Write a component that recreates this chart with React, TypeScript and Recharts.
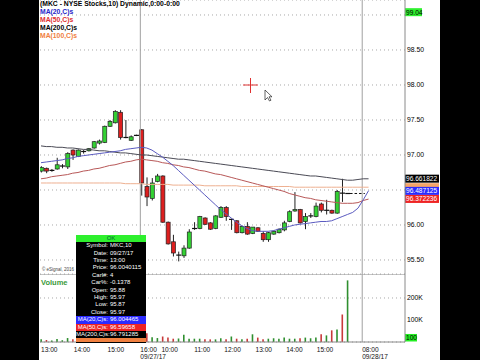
import { ComposedChart, Bar, Line, XAxis, YAxis, CartesianGrid, ReferenceLine, Cell } from 'recharts';

// 10 min bars, index 0 = first bar of 09/26 afternoon, index 19 = 09:30 open of next day
const opens = [
  96.77, 96.81, 96.775, 96.80, 96.84, 96.83, 97.07, 96.98, 97.05, 97.06, 97.10, 97.17, 97.18, 97.41, 97.46, 97.61, 97.25, 97.21, 97.28,
  97.36, 96.55, 96.38, 96.62, 96.70, 96.04, 95.76, 95.57, 95.56, 95.67, 95.95, 95.95, 96.10, 96.03, 95.95, 96.11, 96.25, 96.08, 96.06, 95.89,
  95.98, 95.88, 95.96, 95.88, 95.79, 95.87, 95.89, 95.93, 96.05, 96.20, 96.22, 96.05, 96.13, 96.12, 96.30, 96.21, 96.21, 96.17, 96.46, 96.45,
];
const highs = [
  96.84, 96.82, 96.80, 96.96, 96.87, 97.04, 97.08, 97.08, 97.07, 97.10, 97.20, 97.22, 97.42, 97.50, 97.64, 97.64, 97.50, 97.28, 97.29,
  97.37, 96.68, 96.67, 96.73, 96.71, 96.05, 95.86, 95.62, 95.71, 95.94, 96.04, 96.13, 96.11, 96.04, 96.14, 96.27, 96.27, 96.09, 96.07, 95.99,
  96.04, 95.97, 95.97, 95.91, 95.90, 95.92, 95.95, 96.06, 96.21, 96.47, 96.23, 96.17, 96.17, 96.32, 96.32, 96.36, 96.22, 96.50, 96.66, 96.45,
];
const lows = [
  96.75, 96.74, 96.76, 96.79, 96.81, 96.80, 96.93, 96.97, 97.02, 97.05, 97.09, 97.15, 97.17, 97.40, 97.45, 97.22, 97.24, 97.20, 97.27,
  96.42, 96.27, 96.35, 96.61, 96.03, 95.72, 95.55, 95.48, 95.53, 95.66, 95.93, 95.94, 96.00, 95.93, 95.94, 96.10, 96.06, 95.93, 95.88, 95.88,
  95.86, 95.87, 95.90, 95.76, 95.76, 95.86, 95.88, 95.91, 96.04, 96.19, 96.02, 95.94, 96.10, 96.11, 96.18, 96.15, 96.16, 96.16, 96.33, 96.45,
];
const closes = [
  96.82, 96.77, 96.785, 96.86, 96.845, 97.02, 97.00, 97.07, 97.05, 97.09, 97.19, 97.20, 97.41, 97.48, 97.62, 97.25, 97.25, 97.26, 97.28,
  96.60, 96.40, 96.60, 96.70, 96.04, 95.73, 95.60, 95.57, 95.67, 95.90, 95.95, 96.12, 96.01, 95.94, 96.13, 96.25, 96.12, 96.08, 95.89, 95.98,
  95.87, 95.97, 95.91, 95.79, 95.89, 95.91, 95.94, 96.03, 96.19, 96.22, 96.03, 96.12, 96.13, 96.27, 96.21, 96.21, 96.17, 96.48, 96.45, 96.45,
];
// volume in thousands
const volumes = [
  12, 9, 7, 14, 8, 18, 12, 10, 8, 9, 11, 9, 20, 14, 16, 22, 12, 9, 15,
  85, 40, 22, 18, 25, 20, 15, 16, 33, 15, 15, 15, 12, 12, 12, 17, 12, 25, 15, 12,
  15, 35, 20, 12, 15, 17, 15, 20, 15, 15, 17, 20, 17, 20, 35, 30, 53, 57, 125, 280,
];

const ma20 = [
  96.89, 96.90, 96.91, 96.92, 96.93, 96.95, 96.96, 96.98, 96.99, 97.00,
  97.01, 97.02, 97.03, 97.04, 97.05, 97.06, 97.08, 97.09, 97.10, 97.11,
  97.10, 97.07, 97.02, 96.97, 96.91, 96.85, 96.78, 96.71, 96.64, 96.57,
  96.50, 96.43, 96.36, 96.29, 96.22, 96.16, 96.10, 96.04, 95.99, 95.95,
  95.92, 95.91, 95.91, 95.91, 95.92, 95.94, 95.96, 95.98, 96.00, 96.01,
  96.02, 96.03, 96.04, 96.05, 96.05, 96.06, 96.09, 96.12, 96.15, 96.18,
  96.24, 96.36, 96.49,
];
const ma50 = [
  96.66, 96.67, 96.69, 96.70, 96.71, 96.72, 96.74, 96.75, 96.77, 96.78,
  96.80, 96.81, 96.83, 96.85, 96.86, 96.88, 96.90, 96.91, 96.93, 96.94,
  96.93, 96.92, 96.91, 96.89, 96.88, 96.86, 96.85, 96.83, 96.82, 96.80,
  96.78, 96.77, 96.75, 96.73, 96.72, 96.70, 96.68, 96.66, 96.64, 96.62,
  96.60, 96.58, 96.56, 96.54, 96.52, 96.50, 96.48, 96.45, 96.43, 96.41,
  96.39, 96.38, 96.36, 96.35, 96.34, 96.33, 96.32, 96.31, 96.31, 96.31,
  96.32, 96.35, 96.37,
];
const ma200 = [
  97.13, 97.12, 97.12, 97.11, 97.11, 97.10, 97.10, 97.09, 97.08, 97.08,
  97.07, 97.06, 97.06, 97.05, 97.04, 97.03, 97.03, 97.02, 97.01, 97.00,
  97.00, 96.99, 96.98, 96.97, 96.96, 96.95, 96.94, 96.94, 96.93, 96.92,
  96.91, 96.90, 96.89, 96.88, 96.87, 96.86, 96.85, 96.84, 96.83, 96.82,
  96.81, 96.80, 96.79, 96.78, 96.77, 96.76, 96.75, 96.74, 96.73, 96.72,
  96.71, 96.70, 96.70, 96.69, 96.68, 96.67, 96.66, 96.65, 96.64, 96.64,
  96.65, 96.66, 96.66,
];
const ma100 = [
  96.60, 96.60, 96.60, 96.60, 96.60, 96.60, 96.60, 96.60, 96.60, 96.60,
  96.60, 96.60, 96.60, 96.60, 96.60, 96.60, 96.59, 96.59, 96.59, 96.59,
  96.58, 96.58, 96.58, 96.58, 96.58, 96.57, 96.57, 96.57, 96.57, 96.57,
  96.57, 96.56, 96.56, 96.56, 96.56, 96.56, 96.56, 96.56, 96.55, 96.55,
  96.55, 96.55, 96.55, 96.55, 96.55, 96.55, 96.55, 96.55, 96.54, 96.54,
  96.54, 96.54, 96.54, 96.54, 96.54, 96.54, 96.54, 96.54, 96.54, 96.54,
  96.54, 96.54, 96.54,
];

const priceTicks = [95.5, 96, 96.5, 97, 97.5, 98, 98.5, 99];
// these two tick labels sit under the value tags on the reference
const coveredTicks = [96.5, 99];
const volTicks = [100000, 200000];
const xTickIdx = [0, 6.2, 12.6, 18.8, 22.8, 29, 34.7, 40.6, 46.4, 52.2, 60.8];
const xTickLabels = ['13:00', '14:00', '15:00', '16:00', '10:00', '11:00', '12:00', '13:00', '14:00', '15:00', '08:00'];
const xTickDates = ['', '', '', '09/27/17', '', '', '', '', '', '', '09/28/17'];
const daySplits = [18.8, 60.8];

// right-axis value tags: [value, text, background]
const maTags: [number, string, string][] = [
  [96.54, '', '#f4a468'],
  [96.661822, '96.661822', '#000000'],
  [96.487125, '96.487125', '#2b2bff'],
  [96.372236, '96.372236', '#ee2424'],
];

const tipRows = [
  ['Symbol:', 'MKC,10'], ['Date:', '09/27/17'], ['Time:', '13:00'], ['Price:', '96.0040115'],
  ['Carl#:', '4'], ['Car%:', '-0.1378'], ['Open:', '95.88'], ['High:', '95.97'], ['Low:', '95.87'], ['Close:', '95.97'],
];
const tipMaRows = [
  ['MA(20,C)s:', '96.004465', '#2b2bff'],
  ['MA(50,C)s:', '96.59658', '#ee2424'],
  ['MA(200,C)s:', '96.791285', '#000'],
];

const GREEN = '#33d133';
const RED = '#dd1f1f';
const X_DOMAIN = [-0.19, 68.9];

const data = ma20.map((_, i) => ({
  i,
  open: opens[i],
  high: highs[i],
  low: lows[i],
  close: closes[i],
  range: highs[i] != null ? [lows[i], highs[i]] : undefined,
  vol: volumes[i] != null ? volumes[i] * 1000 : undefined,
  ma20: ma20[i],
  ma50: ma50[i],
  ma200: ma200[i],
  ma100: ma100[i],
}));

function Candle(props: any) {
  const { x, y, width, height, payload } = props;
  if (!payload || payload.high == null || x == null) return null;
  const { open, close, high, low } = payload;
  const top = Math.min(y, y + height);
  const h = Math.abs(height);
  const cx = x + width / 2;
  const ppu = high > low ? h / (high - low) : 0;
  const yB = top + (high - Math.max(open, close)) * ppu;
  const yE = top + (high - Math.min(open, close)) * ppu;
  const bodyH = yE - yB;
  return (
    <g>
      {h > 0 && <line x1={cx} x2={cx} y1={top} y2={top + h} stroke="#222" strokeWidth={1} />}
      {bodyH < 1.3 ? (
        <line x1={cx - 2.5} x2={cx + 2.5} y1={(yB + yE) / 2} y2={(yB + yE) / 2} stroke="#111" strokeWidth={1.2} />
      ) : (
        <rect x={cx - 2} y={yB} width={4} height={bodyH} fill={close >= open ? GREEN : RED} stroke="#222" strokeWidth={0.7} />
      )}
    </g>
  );
}

const tag = (text: string, bg: string, fg: string, w: number) => (props: any) => {
  const vb = props.viewBox;
  if (!vb) return null;
  const x0 = vb.x + vb.width;
  return (
    <g>
      <rect x={x0} y={vb.y - 4} width={w} height={8} fill={bg} />
      {text && <text x={x0 + 1} y={vb.y + 2.4} fontSize={6.6} fill={fg}>{text}</text>}
    </g>
  );
};

const volTag = (props: any) => {
  const vb = props.viewBox;
  if (!vb) return null;
  const x0 = vb.x + vb.width;
  return (
    <g>
      <rect x={x0} y={vb.y - 8} width={12} height={7.5} fill="#22ee22" />
      <text x={x0 + 1} y={vb.y - 1.8} fontSize={6.6} fill="#000">100</text>
    </g>
  );
};

function TimeTick(props: any) {
  const { x, y, payload } = props;
  const k = xTickIdx.indexOf(payload.value);
  return (
    <g>
      <text x={x} y={y + 7.5} fontSize={6.6} fill="#111">{xTickLabels[k]}</text>
      {xTickDates[k] && <text x={x} y={y + 14.5} fontSize={6.6} fill="#111">{xTickDates[k]}</text>}
    </g>
  );
}

const lastClose = closes[closes.length - 1];

export default function App() {
  return (
    <div style={{ position: 'absolute', left: 0, top: 0, width: 480, height: 360, background: '#000', overflow: 'hidden', fontFamily: '"Liberation Sans", Arial, sans-serif' }}>
      <div style={{ position: 'absolute', left: 39, top: 0, width: 401, height: 360, background: '#fff' }} />

      <div style={{ position: 'absolute', left: 39, top: 0 }}>
        <ComposedChart width={401} height={274} data={data} margin={{ top: 0, right: 0, bottom: 0, left: 1 }}>
          <CartesianGrid vertical={false} stroke="#a8a8a8" strokeDasharray="1 3" />
          <XAxis type="number" dataKey="i" domain={X_DOMAIN} allowDataOverflow hide />
          <YAxis
            orientation="right"
            width={35}
            domain={[95.3, 99.214]}
            allowDataOverflow
            ticks={priceTicks}
            tickFormatter={(v: number) => (coveredTicks.includes(v) ? '' : v.toFixed(2))}
            tick={{ fontSize: 6.8, fill: '#000' }}
            tickLine={false}
            tickSize={0}
            tickMargin={2}
            axisLine={{ stroke: '#8a8a8a' }}
          />
          {daySplits.map((d) => (
            <ReferenceLine key={d} x={d} stroke="#a0a0a0" />
          ))}
          <Line dataKey="ma100" stroke="#eeb090" strokeWidth={1} dot={false} isAnimationActive={false} />
          <Line dataKey="ma200" stroke="#4a4a55" strokeWidth={1} dot={false} isAnimationActive={false} />
          <Line dataKey="ma50" stroke="#b85858" strokeWidth={1} dot={false} isAnimationActive={false} />
          <Line dataKey="ma20" stroke="#5a5ac0" strokeWidth={1} dot={false} isAnimationActive={false} />
          <Bar dataKey="range" barSize={4} shape={Candle} isAnimationActive={false} />
          <ReferenceLine
            segment={[{ x: closes.length - 0.5, y: lastClose }, { x: closes.length + 2.3, y: lastClose }]}
            stroke="#111"
            strokeDasharray="2.5 2"
          />
          {maTags.map(([v, t, bg]) => (
            <ReferenceLine key={v} y={v} stroke="none" label={tag(t, bg, '#fff', 34)} />
          ))}
          <ReferenceLine y={99.04} stroke="none" label={tag('99.04', '#2ef02e', '#000', 17)} />
        </ComposedChart>
      </div>

      <div style={{ position: 'absolute', left: 39, top: 274 }}>
        <ComposedChart width={401} height={86} data={data} margin={{ top: 0, right: 0, bottom: 0, left: 1 }}>
          <CartesianGrid vertical={false} stroke="#a8a8a8" strokeDasharray="1 3" />
          <XAxis
            type="number"
            dataKey="i"
            domain={X_DOMAIN}
            allowDataOverflow
            ticks={xTickIdx}
            interval={0}
            height={18}
            tick={<TimeTick />}
            tickLine={false}
            tickSize={0}
            axisLine={{ stroke: '#8a8a8a' }}
          />
          <YAxis
            orientation="right"
            width={35}
            domain={[0, 309000]}
            allowDataOverflow
            ticks={volTicks}
            tickFormatter={(v: number) => `${v / 1000}K`}
            tick={{ fontSize: 6.8, fill: '#000' }}
            tickLine={false}
            tickSize={0}
            tickMargin={2}
            axisLine={{ stroke: '#8a8a8a' }}
          />
          <ReferenceLine y={309000} stroke="#8a8a8a" />
          {daySplits.map((d) => (
            <ReferenceLine key={d} x={d} stroke="#a0a0a0" />
          ))}
          <Bar dataKey="vol" barSize={1.6} isAnimationActive={false}>
            {data.map((d) => (
              <Cell key={d.i} fill={d.close != null && d.close < d.open ? '#c83a3a' : '#2f8f2f'} />
            ))}
          </Bar>
          <ReferenceLine y={100} stroke="none" label={volTag} />
        </ComposedChart>
      </div>

      {/* study legend */}
      <div style={{ position: 'absolute', left: 40, top: 0, fontSize: 6.8, fontWeight: 'bold', lineHeight: '8px', whiteSpace: 'nowrap' }}>
        <div style={{ color: '#000' }}>(MKC - NYSE Stocks,10) Dynamic,0:00-0:00</div>
        <div style={{ color: '#2525c8' }}>MA(20,C)s</div>
        <div style={{ color: '#e03030' }}>MA(50,C)s</div>
        <div style={{ color: '#000' }}>MA(200,C)s</div>
        <div style={{ color: '#f08040' }}>MA(100,C)s</div>
      </div>

      <div style={{ position: 'absolute', left: 42, top: 267, fontSize: 4.5, color: '#444', whiteSpace: 'nowrap' }}>© eSignal, 2016</div>
      <div style={{ position: 'absolute', left: 41, top: 278, fontSize: 7.5, fontWeight: 'bold', color: '#3a9a3a' }}>Volume</div>

      {/* cursor window */}
      <div style={{ position: 'absolute', left: 76, top: 235, width: 70, height: 108, background: '#000', color: '#fff', fontSize: 6, overflow: 'hidden' }}>
        <div style={{ height: 7, background: '#2ef02e', color: '#063', textAlign: 'center', lineHeight: '7px' }}>OK</div>
        <div style={{ height: 0.3 }} />
        {tipRows.map(([l, v]) => (
          <div key={l} style={{ display: 'flex', height: 7.4, lineHeight: '7.4px' }}>
            <span style={{ width: 32, textAlign: 'right' }}>{l}</span>
            <span style={{ marginLeft: 2 }}>{v}</span>
          </div>
        ))}
        {tipMaRows.map(([l, v, bg]) => (
          <div key={l} style={{ display: 'flex', height: 7.4, lineHeight: '7.4px', background: bg }}>
            <span style={{ width: 32, textAlign: 'right', whiteSpace: 'nowrap' }}>{l}</span>
            <span style={{ marginLeft: 2 }}>{v}</span>
          </div>
        ))}
        <div style={{ height: 4, background: '#f08040' }} />
      </div>

      {/* red crosshair and mouse pointer */}
      <svg width={480} height={360} style={{ position: 'absolute', left: 0, top: 0, pointerEvents: 'none' }}>
        <line x1={243} x2={258} y1={85} y2={85} stroke="#e03030" strokeWidth={1} />
        <line x1={250.5} x2={250.5} y1={78} y2={93} stroke="#e03030" strokeWidth={1} />
        <path d="M265 90 L265 100 L267.5 97.5 L269.5 101 L271 100.2 L269 96.8 L272 96.8 Z" fill="#fff" stroke="#222" strokeWidth={0.7} />
      </svg>
    </div>
  );
}
